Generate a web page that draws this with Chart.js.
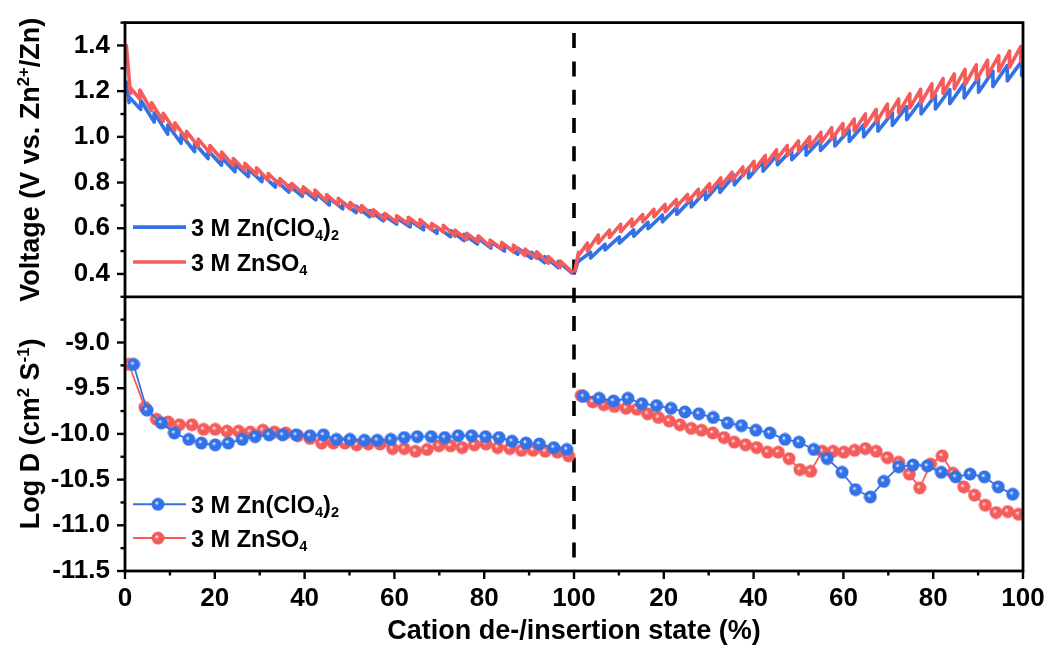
<!DOCTYPE html>
<html><head><meta charset="utf-8">
<script src="https://cdn.jsdelivr.net/npm/chart.js@4.4.1/dist/chart.umd.min.js"></script>
<style>html,body{margin:0;padding:0;background:#fff;}canvas{display:block;}</style>
</head><body>
<canvas id="c" width="1050" height="651"></canvas>
<script>
// ---------- axis ticks ----------
const xTickValues = [0, 20, 40, 60, 80, 100, 120, 140, 160, 180, 200];
const xTickLabels = ['0', '20', '40', '60', '80', '100', '20', '40', '60', '80', '100'];
const xMinorTicks = [10, 30, 50, 70, 90, 110, 130, 150, 170, 190];
const voltageTicks = [0.4, 0.6, 0.8, 1.0, 1.2, 1.4];
const voltageMinorTicks = [0.3, 0.5, 0.7, 0.9, 1.1, 1.3, 1.5];
const logDTicks = [-9.0, -9.5, -10.0, -10.5, -11.0, -11.5];
const logDMinorTicks = [-8.75, -9.25, -9.75, -10.25, -10.75, -11.25];

// ---------- voltage (GITT) : discharge 0-100 %, charge 0-100 % ----------
// boundaries (state %), relaxed voltage, voltage at end of the pulse arriving at that boundary
const znso4DisX = [0.3, 1.2, 3.3, 5.9, 8.5, 11.1, 13.7, 16.3, 18.9, 21.5, 24.1, 26.7, 29.3, 31.9, 34.5, 37.1, 39.7, 42.3, 44.9, 47.5, 50.1, 52.7, 55.3, 57.9, 60.5, 63.1, 65.7, 68.3, 70.9, 73.5, 76.1, 78.7, 81.3, 83.9, 86.5, 89.1, 91.7, 94.3, 96.9, 99.5];
const znso4DisRest = [1.400, 1.215, 1.205, 1.150, 1.103, 1.061, 1.024, 0.990, 0.962, 0.934, 0.905, 0.884, 0.865, 0.840, 0.818, 0.796, 0.781, 0.767, 0.747, 0.731, 0.713, 0.699, 0.681, 0.665, 0.655, 0.648, 0.638, 0.621, 0.613, 0.592, 0.578, 0.567, 0.548, 0.538, 0.526, 0.509, 0.497, 0.476, 0.457, 0.410];
const znso4DisEnd = [null, 1.190, 1.165, 1.115, 1.068, 1.028, 0.990, 0.958, 0.930, 0.902, 0.875, 0.853, 0.835, 0.810, 0.788, 0.768, 0.752, 0.738, 0.718, 0.702, 0.685, 0.670, 0.653, 0.638, 0.627, 0.620, 0.610, 0.594, 0.585, 0.565, 0.550, 0.540, 0.520, 0.510, 0.497, 0.480, 0.468, 0.447, 0.428, 0.410];

const clo4DisX = [0.3, 0.9, 3.5, 6.5, 9.5, 12.5, 15.5, 18.5, 21.5, 24.5, 27.5, 30.5, 33.5, 36.5, 39.5, 42.5, 45.5, 48.5, 51.5, 54.5, 57.5, 60.5, 63.5, 66.5, 69.5, 72.5, 75.5, 78.5, 81.5, 84.5, 87.5, 90.5, 93.5, 96.5, 99.5];
const clo4DisRest = [1.240, 1.175, 1.160, 1.105, 1.052, 1.010, 0.972, 0.940, 0.910, 0.880, 0.858, 0.835, 0.810, 0.788, 0.770, 0.754, 0.732, 0.714, 0.697, 0.678, 0.659, 0.645, 0.633, 0.620, 0.605, 0.590, 0.573, 0.558, 0.540, 0.527, 0.513, 0.495, 0.476, 0.455, 0.405];
const clo4DisEnd = [null, 1.150, 1.120, 1.065, 1.012, 0.972, 0.935, 0.905, 0.876, 0.847, 0.826, 0.804, 0.780, 0.758, 0.740, 0.724, 0.702, 0.685, 0.668, 0.650, 0.632, 0.618, 0.606, 0.593, 0.578, 0.563, 0.546, 0.531, 0.513, 0.500, 0.486, 0.468, 0.449, 0.428, 0.405];

const znso4ChX = [0.2, 1.0, 3.0, 5.4, 7.9, 10.4, 12.9, 15.3, 17.8, 20.3, 22.8, 25.3, 27.7, 30.2, 32.7, 35.2, 37.6, 40.1, 42.6, 45.1, 47.5, 50.0, 52.5, 55.0, 57.4, 59.9, 62.4, 64.9, 67.3, 69.8, 72.3, 74.8, 77.2, 79.7, 82.2, 84.7, 87.1, 89.6, 92.1, 94.6, 97.0, 99.5];
const znso4ChRest = [0.415, 0.480, 0.500, 0.535, 0.560, 0.585, 0.608, 0.628, 0.650, 0.672, 0.694, 0.715, 0.736, 0.760, 0.785, 0.808, 0.830, 0.853, 0.876, 0.900, 0.918, 0.937, 0.955, 0.973, 0.990, 1.008, 1.026, 1.046, 1.064, 1.085, 1.105, 1.126, 1.146, 1.168, 1.190, 1.210, 1.228, 1.248, 1.268, 1.288, 1.305, 1.330];
const znso4ChEnd = [null, 0.495, 0.535, 0.570, 0.592, 0.617, 0.640, 0.660, 0.683, 0.704, 0.726, 0.748, 0.770, 0.795, 0.820, 0.845, 0.868, 0.893, 0.918, 0.943, 0.962, 0.982, 1.000, 1.020, 1.040, 1.058, 1.078, 1.100, 1.120, 1.143, 1.165, 1.188, 1.208, 1.232, 1.255, 1.275, 1.295, 1.315, 1.335, 1.355, 1.375, 1.395];

const clo4ChX = [0.2, 1.0, 3.7, 6.9, 10.1, 13.3, 16.5, 19.7, 22.9, 26.1, 29.3, 32.5, 35.7, 38.9, 42.1, 45.3, 48.5, 51.7, 54.9, 58.1, 61.3, 64.5, 67.7, 70.9, 74.1, 77.3, 80.5, 83.7, 86.9, 90.1, 93.3, 96.5, 99.7];
const clo4ChRest = [0.410, 0.455, 0.470, 0.505, 0.535, 0.565, 0.598, 0.628, 0.660, 0.693, 0.725, 0.757, 0.790, 0.820, 0.850, 0.878, 0.900, 0.920, 0.940, 0.960, 0.980, 1.000, 1.025, 1.050, 1.075, 1.100, 1.122, 1.145, 1.170, 1.195, 1.220, 1.245, 1.268];
const clo4ChEnd = [null, 0.465, 0.495, 0.530, 0.562, 0.593, 0.626, 0.658, 0.692, 0.727, 0.762, 0.797, 0.832, 0.864, 0.893, 0.922, 0.945, 0.965, 0.986, 1.008, 1.030, 1.052, 1.078, 1.105, 1.132, 1.158, 1.182, 1.207, 1.234, 1.260, 1.287, 1.312, 1.330];

// ---------- log D ----------
const clo4DDisX = [1.9, 4.9, 8.1, 11.0, 14.2, 17.0, 20.1, 23.0, 26.1, 29.0, 32.1, 35.1, 38.1, 41.2, 44.2, 47.1, 50.1, 53.3, 56.2, 59.2, 62.2, 65.1, 68.2, 71.2, 74.2, 77.2, 80.3, 83.3, 86.2, 89.3, 92.3, 95.5, 98.4];
const clo4DDisY = [-9.24, -9.74, -9.88, -9.99, -10.06, -10.10, -10.12, -10.10, -10.06, -10.03, -10.01, -10.01, -10.01, -10.02, -10.01, -10.06, -10.06, -10.07, -10.07, -10.06, -10.04, -10.03, -10.03, -10.04, -10.02, -10.02, -10.03, -10.04, -10.08, -10.10, -10.11, -10.15, -10.17];
const znso4DDisX = [0.9, 4.4, 7.0, 9.6, 12.1, 14.9, 17.5, 20.1, 22.7, 25.3, 27.9, 30.7, 33.3, 35.8, 38.5, 41.2, 43.8, 46.4, 49.0, 51.6, 54.2, 56.8, 59.6, 62.2, 64.7, 67.3, 69.9, 72.5, 75.1, 77.8, 80.4, 83.0, 85.7, 88.3, 90.9, 93.6, 96.3, 98.8];
const znso4DDisY = [-9.24, -9.71, -9.84, -9.87, -9.90, -9.90, -9.95, -9.95, -9.97, -9.97, -9.98, -9.96, -9.98, -9.99, -10.02, -10.05, -10.10, -10.10, -10.10, -10.12, -10.11, -10.11, -10.16, -10.16, -10.19, -10.17, -10.13, -10.13, -10.15, -10.12, -10.11, -10.15, -10.16, -10.18, -10.18, -10.19, -10.20, -10.24];
const clo4DChX = [2.1, 5.6, 8.8, 12.0, 15.1, 18.4, 21.6, 24.7, 27.8, 31.0, 34.2, 37.3, 40.5, 43.6, 47.0, 50.1, 53.4, 56.4, 59.7, 62.7, 66.0, 69.0, 72.3, 75.5, 78.7, 81.8, 85.0, 88.2, 91.4, 94.5, 97.7];
const clo4DChY = [-9.59, -9.61, -9.64, -9.61, -9.67, -9.69, -9.72, -9.76, -9.78, -9.82, -9.88, -9.91, -9.96, -9.99, -10.06, -10.09, -10.17, -10.27, -10.42, -10.61, -10.69, -10.52, -10.36, -10.34, -10.35, -10.42, -10.47, -10.44, -10.47, -10.58, -10.66];
const znso4DChX = [1.6, 4.2, 6.6, 9.0, 11.6, 14.0, 16.4, 18.8, 21.2, 23.6, 26.1, 28.4, 30.9, 33.4, 35.7, 38.2, 40.7, 43.1, 45.5, 47.9, 50.3, 52.7, 55.3, 57.7, 60.1, 62.5, 64.9, 67.3, 69.8, 72.3, 74.7, 77.0, 79.4, 82.0, 84.4, 86.8, 89.2, 91.6, 94.0, 96.6, 99.0];
const znso4DChY = [-9.58, -9.65, -9.68, -9.70, -9.72, -9.73, -9.78, -9.82, -9.86, -9.90, -9.94, -9.96, -9.99, -10.04, -10.09, -10.12, -10.15, -10.20, -10.20, -10.27, -10.39, -10.41, -10.19, -10.19, -10.20, -10.18, -10.16, -10.19, -10.26, -10.31, -10.44, -10.59, -10.33, -10.24, -10.43, -10.58, -10.67, -10.78, -10.86, -10.85, -10.88];

// ---------- styling ----------
const FONT = "'Liberation Sans', Arial, Helvetica, sans-serif";
const BLUE = '#3371E6';
const RED = '#F45C5C';
const CHARGE_OFFSET = 100;

function sawtooth(xs, rest, ends, offset) {
  const pts = [];
  for (let i = 0; i < xs.length; i++) {
    if (ends[i] !== null) pts.push({x: xs[i] + offset, y: ends[i]});
    pts.push({x: xs[i] + offset, y: rest[i]});
  }
  return pts;
}
function pairs(xs, ys, offset) { return xs.map((x, i) => ({x: x + offset, y: ys[i]})); }

function sphere(color) {
  const s = 14, c = document.createElement('canvas');
  c.width = s; c.height = s;
  const g = c.getContext('2d');
  const grad = g.createRadialGradient(5.6, 5.6, 0.3, 7, 7, 6.8);
  grad.addColorStop(0, 'rgba(255,255,255,0.85)');
  grad.addColorStop(0.28, color);
  grad.addColorStop(1, color);
  g.fillStyle = grad;
  g.beginPath(); g.arc(7, 7, 6.5, 0, Math.PI * 2); g.fill();
  return c;
}
const blueBall = sphere(BLUE), redBall = sphere(RED);

function vLine(data, color, order) {
  return {type: 'line', data, yAxisID: 'yV', borderColor: color, borderWidth: 3.6, pointRadius: 0,
          tension: 0, fill: false, order, borderJoinStyle: 'round', borderCapStyle: 'round'};
}
function dLine(data, color, ball, order) {
  return {type: 'line', data, yAxisID: 'yD', borderColor: color, backgroundColor: color, borderWidth: 1.8,
          pointStyle: ball, pointRadius: 6.5, tension: 0, fill: false, order};
}

const datasets = [
  vLine(sawtooth(clo4DisX, clo4DisRest, clo4DisEnd, 0), BLUE, 4),
  vLine(sawtooth(clo4ChX, clo4ChRest, clo4ChEnd, CHARGE_OFFSET), BLUE, 4),
  vLine(sawtooth(znso4DisX, znso4DisRest, znso4DisEnd, 0), RED, 3),
  vLine(sawtooth(znso4ChX, znso4ChRest, znso4ChEnd, CHARGE_OFFSET), RED, 3),
  dLine(pairs(znso4DDisX, znso4DDisY, 0), RED, redBall, 2),
  dLine(pairs(znso4DChX, znso4DChY, CHARGE_OFFSET), RED, redBall, 2),
  dLine(pairs(clo4DDisX, clo4DDisY, 0), BLUE, blueBall, 1),
  dLine(pairs(clo4DChX, clo4DChY, CHARGE_OFFSET), BLUE, blueBall, 1)
];

// rich text helpers
function segFont(s, size) { return `bold ${(s.sup || s.sub) ? size * 0.62 : size}px ${FONT}`; }
function richWidth(ctx, segs, size) {
  let w = 0;
  for (const s of segs) { ctx.font = segFont(s, size); w += ctx.measureText(s.t).width; }
  return w;
}
function drawRich(ctx, segs, x, y, size) {
  let cx = x;
  ctx.textBaseline = 'alphabetic';
  ctx.textAlign = 'left';
  for (const s of segs) {
    ctx.font = segFont(s, size);
    const dy = s.sup ? -size * 0.36 : (s.sub ? size * 0.2 : 0);
    ctx.fillText(s.t, cx, y + dy);
    cx += ctx.measureText(s.t).width;
  }
}

const voltTitle = [{t: 'Voltage (V vs. Zn'}, {t: '2+', sup: true}, {t: '/Zn)'}];
const logDTitle = [{t: 'Log D (cm'}, {t: '2', sup: true}, {t: ' S'}, {t: '-1', sup: true}, {t: ')'}];
const clo4Label = [{t: '3 M Zn(ClO'}, {t: '4', sub: true}, {t: ')'}, {t: '2', sub: true}];
const znso4Label = [{t: '3 M ZnSO'}, {t: '4', sub: true}];

const decor = {
  id: 'decor',
  beforeDatasetsDraw(chart) {
    const {ctx, chartArea: a, scales: {x}} = chart;
    const xp = x.getPixelForValue(100);
    ctx.save();
    ctx.strokeStyle = '#000';
    ctx.lineWidth = 3.6;
    ctx.setLineDash([15, 13.3]);
    ctx.lineDashOffset = 17.8;
    ctx.beginPath(); ctx.moveTo(xp, a.top); ctx.lineTo(xp, a.bottom); ctx.stroke();
    ctx.restore();
  },
  afterDatasetsDraw(chart) {
    const {ctx, chartArea: a, scales: {x, yV, yD}} = chart;
    ctx.save();
    ctx.strokeStyle = '#000';
    ctx.lineWidth = 2.8;
    ctx.lineCap = 'butt';
    const seg = (x1, y1, x2, y2) => { ctx.beginPath(); ctx.moveTo(x1, y1); ctx.lineTo(x2, y2); ctx.stroke(); };
    ctx.strokeRect(a.left, a.top, a.right - a.left, a.bottom - a.top);
    seg(a.left, yV.bottom, a.right, yV.bottom);
    ctx.lineWidth = 2.4;
    for (const v of voltageTicks) { const y = yV.getPixelForValue(v); seg(a.left - 8, y, a.left, y); }
    for (const v of voltageMinorTicks) { const y = yV.getPixelForValue(v); seg(a.left - 4.5, y, a.left, y); }
    for (const v of logDTicks) { const y = yD.getPixelForValue(v); seg(a.left - 8, y, a.left, y); }
    for (const v of logDMinorTicks) { const y = yD.getPixelForValue(v); seg(a.left - 4.5, y, a.left, y); }
    for (const v of xTickValues) { const xp = x.getPixelForValue(v); seg(xp, a.bottom, xp, a.bottom + 8); }
    for (const v of xMinorTicks) { const xp = x.getPixelForValue(v); seg(xp, a.bottom, xp, a.bottom + 4.5); }

    // axis titles (rotated)
    ctx.fillStyle = '#000';
    const tsize = 27;
    for (const [segs, sc] of [[voltTitle, yV], [logDTitle, yD]]) {
      const w = richWidth(ctx, segs, tsize);
      ctx.save();
      ctx.translate(29, (sc.top + sc.bottom) / 2);
      ctx.rotate(-Math.PI / 2);
      drawRich(ctx, segs, -w / 2, tsize * 0.36, tsize);
      ctx.restore();
    }

    // legends
    const lsize = 23.5;
    const legend = (y, color, segs, ball) => {
      ctx.strokeStyle = color;
      ctx.lineWidth = ball ? 2 : 3.6;
      seg(133, y, 186, y);
      if (ball) ctx.drawImage(ball, 158 - 7, y - 7);
      ctx.fillStyle = '#000';
      drawRich(ctx, segs, 191, y + lsize * 0.36, lsize);
    };
    legend(yV.getPixelForValue(0.605), BLUE, clo4Label, null);
    legend(yV.getPixelForValue(0.452), RED, znso4Label, null);
    legend(yD.getPixelForValue(-10.77), BLUE, clo4Label, blueBall);
    legend(yD.getPixelForValue(-11.14), RED, znso4Label, redBall);
    ctx.restore();
  }
};

const tickFont = {family: FONT, size: 26, weight: 'bold'};
function yAxis(min, max, ticksArr) {
  return {
    type: 'linear', position: 'left', stack: 'panels', stackWeight: 1, min, max,
    grid: {display: false, drawTicks: true, tickLength: 8}, border: {display: false},
    afterBuildTicks: s => { s.ticks = ticksArr.map(v => ({value: v})); },
    ticks: {color: '#000', font: tickFont, padding: 7, autoSkip: false, callback: v => v.toFixed(1)},
    afterFit: s => { s.width = 125; }
  };
}

new Chart(document.getElementById('c'), {
  data: {datasets},
  plugins: [decor],
  options: {
    responsive: false, animation: false, devicePixelRatio: 1,
    layout: {padding: {top: 19, right: 27, left: 0, bottom: 0}},
    plugins: {legend: {display: false}, tooltip: {enabled: false}},
    scales: {
      x: {
        type: 'linear', position: 'bottom', min: 0, max: 200,
        grid: {display: false, drawTicks: true, tickLength: 8}, border: {display: false},
        afterBuildTicks: s => { s.ticks = xTickValues.map(v => ({value: v})); },
        ticks: {color: '#000', font: tickFont, padding: 4, autoSkip: false, maxRotation: 0,
                callback: (v, i) => xTickLabels[i]},
        title: {display: true, text: 'Cation de-/insertion state (%)', color: '#000',
                font: {family: FONT, size: 27, weight: 'bold'}, padding: {top: 0, bottom: 3}},
        afterFit: s => { s.height = 80; }
      },
      yD: yAxis(-11.5, -8.5, logDTicks),
      yV: yAxis(0.3, 1.5, voltageTicks)
    }
  }
});
</script>
</body></html>
